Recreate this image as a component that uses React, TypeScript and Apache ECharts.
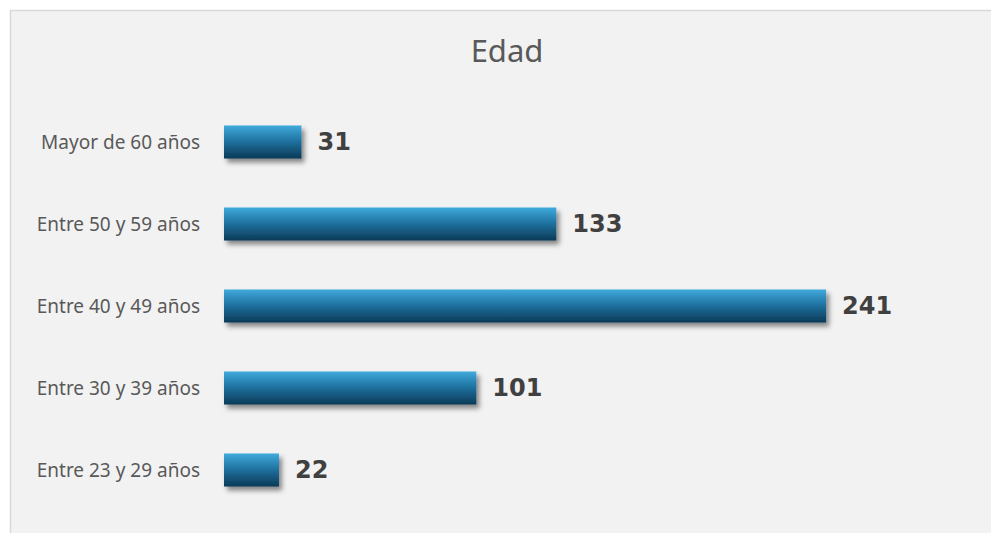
import React, { useEffect, useRef } from "react";
import * as echarts from "echarts";

const categories = [
  "Entre 23 y 29 años",
  "Entre 30 y 39 años",
  "Entre 40 y 49 años",
  "Entre 50 y 59 años",
  "Mayor de 60 años",
];
const values = [22, 101, 241, 133, 31];
const titleText = "Edad";

export default function App() {
  const ref = useRef<HTMLDivElement>(null);
  useEffect(() => {
    if (!ref.current) return;
    const chart = echarts.init(ref.current, undefined, { renderer: "svg" });
    chart.setOption({
      animation: false,
      backgroundColor: "#ffffff",
      graphic: [
        {
          type: "rect",
          z: -10,
          shape: { x: 10.5, y: 10.5, width: 990, height: 540 },
          style: { fill: "#f2f2f2", stroke: "#d9d9d9", lineWidth: 1.5 },
        },
        {
          type: "text",
          x: 507,
          y: 50,
          style: {
            text: titleText,
            textAlign: "center",
            textVerticalAlign: "middle",
            fontFamily: "Noto Sans",
            fontSize: 31,
            fontWeight: "normal",
            fill: "#595959",
          },
        },
      ],
      grid: { left: 224, top: 101, width: 749.5, height: 410 },
      xAxis: {
        type: "value",
        min: 0,
        max: 300,
        show: false,
        splitLine: { show: false },
      },
      yAxis: {
        type: "category",
        data: categories,
        axisLine: { show: false },
        axisTick: { show: false },
        axisLabel: {
          margin: 24,
          fontFamily: "Noto Sans",
          fontSize: 19,
          color: "#595959",
        },
      },
      series: [
        {
          type: "bar",
          data: values,
          barWidth: 33,
          itemStyle: {
            color: new echarts.graphic.LinearGradient(0, 0, 0, 1, [
              { offset: 0, color: "#40aadc" },
              { offset: 0.5, color: "#1d6f9c" },
              { offset: 1, color: "#0c3a56" },
            ]),
            shadowColor: "rgba(0,0,0,0.45)",
            shadowBlur: 5,
            shadowOffsetX: 3,
            shadowOffsetY: 4,
          },
          label: {
            show: true,
            position: "right",
            distance: 16,
            fontFamily: "DejaVu Sans",
            fontWeight: "bold",
            fontSize: 24,
            color: "#404040",
          },
        },
      ],
    });
    return () => chart.dispose();
  }, []);
  return (
    <div
      ref={ref}
      style={{ position: "absolute", left: 0, top: 0, width: 991, height: 533 }}
    />
  );
}
